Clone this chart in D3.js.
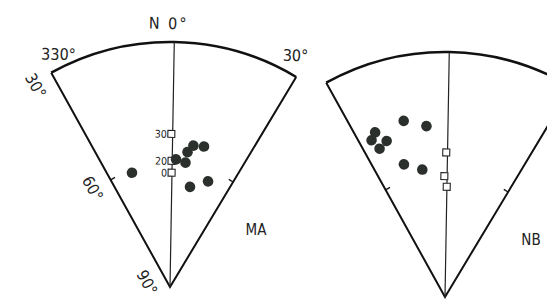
<!DOCTYPE html>
<html>
<head>
<meta charset="utf-8">
<script src="https://cdn.jsdelivr.net/npm/d3@7"></script>
<style>
  body { margin: 0; background: #fff; }
  text { font-family: "Liberation Sans Narrow", "DejaVu Sans Condensed", "Liberation Sans", sans-serif; fill: #222; }
</style>
</head>
<body>
<div id="chart-area"></div>
<script>
// DATA  (azimuth in degrees, 330 = -30 ; plunge/inclination in degrees)
var radialTicks = [30, 60, 90];
var azLabels = ["330°", "N 0°", "30°"];

var maCircleAz  = [-19.4, 1.7, 6.1, 6.4, 8.4, 12.6, 10.3, 18.8];
var maCircleInc = [60.5, 58.7, 59.3, 56.7, 54.9, 54.6, 65.0, 62.5];
var maSquareAz  = [-0.5, -0.3, -0.2];
var maSquareInc = [52.5, 59.1, 62.0];
var maSquareLabels = ["30", "20", "0"];

var nbCircleAz  = [-14.2, -7.2, -24.0, -26.1, -21.5, -24.8, -18.2, -11.1];
var nbCircleInc = [45.7, 47.9, 46.2, 47.6, 49.2, 50.3, 56.0, 58.3];
var nbSquareAz  = [-0.5, -1.3, -0.1];
var nbSquareInc = [54.6, 60.4, 63.0];

//INITIAL SETUP
var width = 547;
var height = 303;
var R = 245;

var svg = d3.select('#chart-area')
	.append('svg')
	.attr('width', width)
	.attr('height', height);

//SCALES
var r = d3.scaleLinear()
	.domain([90, 30])
	.range([0, R]);

var a = d3.scaleLinear()
	.domain([-30, 30])
	.range([-Math.PI / 6, Math.PI / 6]);

function px(az, inc) {
	return r(inc) * Math.sin(a(az));
}
function py(az, inc) {
	return -r(inc) * Math.cos(a(az));
}

function drawFan(opts) {
	var g = svg.append('g')
		.attr('transform', 'translate(' + opts.x + ',' + opts.y + ') rotate(1)');

	// sides
	g.append('path')
		.attr('d', 'M' + px(-30, 30) + ',' + py(-30, 30) + 'L0,0L' + px(30, 30) + ',' + py(30, 30))
		.attr('fill', 'none')
		.attr('stroke', '#111')
		.attr('stroke-width', 2)
		.attr('stroke-linejoin', 'miter');

	// outer arc
	var p = d3.path();
	p.arc(0, 0, r(30), -Math.PI / 2 + a(-30), -Math.PI / 2 + a(30));
	g.append('path')
		.attr('d', p.toString())
		.attr('fill', 'none')
		.attr('stroke', '#111')
		.attr('stroke-width', 2.6);

	// north line
	g.append('line')
		.attr('x1', 0).attr('y1', 0)
		.attr('x2', px(0, 30)).attr('y2', py(0, 30))
		.attr('stroke', '#222')
		.attr('stroke-width', 1.2);

	// ticks at 60 on each side, pointing inward
	[-30, 30].forEach(function (az) {
		var x0 = px(az, 60), y0 = py(az, 60);
		var ang = a(az);
		var s = az < 0 ? 1 : -1;
		g.append('line')
			.attr('x1', x0).attr('y1', y0)
			.attr('x2', x0 + s * 5 * Math.cos(ang))
			.attr('y2', y0 + s * 5 * Math.sin(ang))
			.attr('stroke', '#111')
			.attr('stroke-width', 1.3);
	});

	// radial labels along left edge
	if (opts.radialLabels) {
		var ang = a(-30);
		var ux = Math.sin(ang), uy = -Math.cos(ang);   // along edge outward
		var nx = -Math.cos(ang), ny = -Math.sin(ang);  // normal, outside the fan
		g.selectAll('.rlab')
			.data(radialTicks)
			.enter()
			.append('text')
			.attr('class', 'rlab')
			.attr('font-size', '16px')
			.attr('text-anchor', 'middle')
			.attr('dominant-baseline', 'central')
			.attr('transform', function (d) {
				var along = r(d) * 0.96 + (d === 90 ? 15 : 6);
				var off = d === 90 ? 18 : 20;
				var tx = ux * along + nx * off;
				var ty = uy * along + ny * off;
				return 'translate(' + tx + ',' + ty + ') rotate(60)';
			})
			.text(function (d) { return d + '°'; });
	}

	// azimuth labels
	if (opts.azLabels) {
		g.append('text')
			.attr('x', px(-30, 30) + 7).attr('y', py(-30, 30) - 13)
			.attr('font-size', '16px').attr('text-anchor', 'middle')
			.text(azLabels[0]);
		g.append('text')
			.attr('x', px(0, 30) - 6).attr('y', py(0, 30) - 13)
			.attr('font-size', '16px').attr('text-anchor', 'middle')
			.attr('letter-spacing', '2px')
			.text(azLabels[1]);
		g.append('text')
			.attr('x', px(30, 30) - 1).attr('y', py(30, 30) - 16)
			.attr('font-size', '16px').attr('text-anchor', 'middle')
			.text(azLabels[2]);
	}

	// open squares
	var sq = 7;
	g.selectAll('.sq')
		.data(opts.sqAz)
		.enter()
		.append('rect')
		.attr('class', 'sq')
		.attr('x', function (d, i) { return px(d, opts.sqInc[i]) - sq / 2; })
		.attr('y', function (d, i) { return py(d, opts.sqInc[i]) - sq / 2; })
		.attr('width', sq)
		.attr('height', sq)
		.attr('fill', '#fff')
		.attr('stroke', '#222')
		.attr('stroke-width', 1.1);

	if (opts.sqLabels) {
		g.selectAll('.sqlab')
			.data(opts.sqLabels)
			.enter()
			.append('text')
			.attr('class', 'sqlab')
			.attr('font-size', '10.5px')
			.attr('text-anchor', 'end')
			.attr('dominant-baseline', 'central')
			.attr('x', function (d, i) { return px(opts.sqAz[i], opts.sqInc[i]) - sq / 2 - 1; })
			.attr('y', function (d, i) { return py(opts.sqAz[i], opts.sqInc[i]); })
			.text(function (d) { return d; });
	}

	// filled circles
	g.selectAll('.pt')
		.data(opts.cAz)
		.enter()
		.append('circle')
		.attr('class', 'pt')
		.attr('cx', function (d, i) { return px(d, opts.cInc[i]); })
		.attr('cy', function (d, i) { return py(d, opts.cInc[i]); })
		.attr('r', 5.3)
		.attr('fill', '#2b302d');

	// site label
	svg.append('text')
		.attr('x', opts.x + 86)
		.attr('y', opts.y - 52)
		.attr('font-size', '15px')
		.attr('text-anchor', 'middle')
		.text(opts.name);
}

drawFan({
	x: 170, y: 287, name: 'MA',
	radialLabels: true, azLabels: true,
	cAz: maCircleAz, cInc: maCircleInc,
	sqAz: maSquareAz, sqInc: maSquareInc, sqLabels: maSquareLabels
});

drawFan({
	x: 445, y: 297, name: 'NB',
	radialLabels: false, azLabels: false,
	cAz: nbCircleAz, cInc: nbCircleInc,
	sqAz: nbSquareAz, sqInc: nbSquareInc, sqLabels: null
});
</script>
</body>
</html>
